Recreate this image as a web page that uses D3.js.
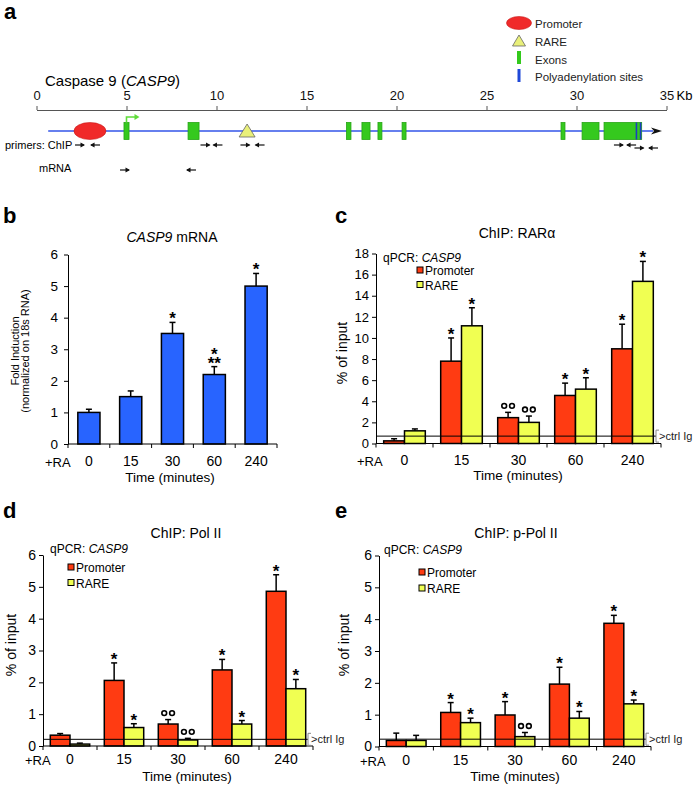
<!DOCTYPE html>
<html><head><meta charset="utf-8">
<script src="https://cdn.jsdelivr.net/npm/d3@7"></script>
<style>
body{margin:0;background:#fff}
svg{display:block;font-family:"Liberation Sans",Arial,Helvetica,sans-serif}
</style>
</head><body>
<svg id="fig" width="697" height="789"></svg>
<script>
// ---------- Panel a: gene map (positions in kb) ----------
const kbTicks = [0, 5, 10, 15, 20, 25, 30, 35];
const geneSpanKb = [0.65, 34.75];
const promoterKb = 2.97, promoterHalfKb = 0.89;
const tssKb = 5.0;
const rareKb = 11.7;
const exonStartKb = [4.86, 8.42, 17.22, 18.08, 18.97, 20.31, 29.14, 30.31, 31.53];
const exonEndKb   = [5.14, 9.03, 17.47, 18.53, 19.19, 20.53, 29.36, 31.25, 33.62];
const polyAKb = [33.33, 33.56];
const chipFwdKb = [2.39, 9.36, 11.58, 32.33, 33.47];
const chipRevKb = [3.28, 10.08, 12.42, 33.06, 34.28];
const chipRow   = [0, 0, 0, 0, 1];
const mrnaFwdKb = [4.89];
const mrnaRevKb = [8.61];

// ---------- Shared categories ----------
const times = ["0", "15", "30", "60", "240"];
const seriesNames = ["Promoter", "RARE"];

// ---------- Panel b: CASP9 mRNA ----------
const mrnaFold = [1.0, 1.5, 3.5, 2.2, 5.0];
const mrnaSD   = [0.1, 0.18, 0.35, 0.25, 0.4];
const mrnaSig  = [[], [], ["*"], ["*", "**"], ["*"]];

// ---------- Panel c: ChIP RARalpha ----------
const rarPromoter    = [0.25, 7.8, 2.45, 4.55, 8.97];
const rarPromoterSD  = [0.2, 2.2, 0.5, 1.17, 2.33];
const rarRare        = [1.2, 11.15, 2.0, 5.15, 15.36];
const rarRareSD      = [0.18, 1.71, 0.6, 1.08, 1.89];
const rarPromoterSig = ["", "*", "oo", "*", "*"];
const rarRareSig     = ["", "*", "oo", "*", "*"];
const rarCtrlIg = 0.7;

// ---------- Panel d: ChIP Pol II ----------
const polPromoter    = [0.34, 2.06, 0.69, 2.39, 4.86];
const polPromoterSD  = [0.05, 0.55, 0.14, 0.33, 0.52];
const polRare        = [0.06, 0.58, 0.19, 0.69, 1.8];
const polRareSD      = [0.03, 0.12, 0.05, 0.11, 0.29];
const polPromoterSig = ["", "*", "oo", "*", "*"];
const polRareSig     = ["", "*", "oo", "*", "*"];
const polCtrlIg = 0.21;

// ---------- Panel e: ChIP p-Pol II ----------
const ppolPromoter    = [0.19, 1.07, 0.99, 1.96, 3.87];
const ppolPromoterSD  = [0.23, 0.31, 0.42, 0.53, 0.25];
const ppolRare        = [0.19, 0.75, 0.31, 0.89, 1.34];
const ppolRareSD      = [0.16, 0.14, 0.13, 0.21, 0.12];
const ppolPromoterSig = ["", "*", "*", "*", "*"];
const ppolRareSig     = ["", "*", "oo", "*", "*"];
const ppolCtrlIg = 0.23;

const RED = "#ff3b12", YELLOW = "#f0ff52", BLUE = "#2864ff";

const svg = d3.select("#fig");

// Panel letters
[["a", 4, 19], ["b", 3, 223], ["c", 335, 223], ["d", 3, 518], ["e", 335, 518]].forEach(([t, x, y]) =>
  svg.append("text").attr("x", x).attr("y", y).attr("font-size", 22).attr("font-weight", "bold").text(t));

// ================= Panel a =================
(function () {
  const g = svg.append("g");
  const xKb = d3.scaleLinear().domain([0, 35]).range([36.5, 666.5]);
  const lineY = 131;

  const t = g.append("text").attr("x", 45).attr("y", 86).attr("font-size", 15);
  t.append("tspan").text("Caspase 9 (");
  t.append("tspan").attr("font-style", "italic").text("CASP9");
  t.append("tspan").text(")");

  const ax = g.append("g").attr("transform", "translate(0,110)")
    .call(d3.axisTop(xKb).tickValues(kbTicks).tickSize(4).tickSizeOuter(0).tickPadding(6));
  ax.attr("font-size", null).attr("font-family", null);
  ax.selectAll("path,line").attr("stroke", "#555");
  ax.selectAll("text").attr("font-size", 13).attr("fill", "#111");
  g.append("text").attr("x", xKb(35) + 10).attr("y", 100).attr("font-size", 13).text("Kb");

  // legend
  const lg = g.append("g").attr("font-size", 11.5).attr("fill", "#222");
  lg.append("ellipse").attr("cx", 519).attr("cy", 23).attr("rx", 12.5).attr("ry", 6.5).attr("fill", "#f02a2a").attr("stroke", "#c81818").attr("stroke-width", 0.6);
  lg.append("text").attr("x", 535).attr("y", 28).text("Promoter");
  lg.append("path").attr("d", "M519,35 L525.5,46 L512.5,46 Z").attr("fill", "#e9f07a").attr("stroke", "#666").attr("stroke-width", 0.8);
  lg.append("text").attr("x", 535).attr("y", 46).text("RARE");
  lg.append("rect").attr("x", 517).attr("y", 51).attr("width", 4).attr("height", 13).attr("fill", "#33c91c");
  lg.append("text").attr("x", 535).attr("y", 63.5).text("Exons");
  lg.append("rect").attr("x", 517.5).attr("y", 69).attr("width", 3).attr("height", 13).attr("fill", "#1f48d8");
  lg.append("text").attr("x", 535).attr("y", 81).text("Polyadenylation sites");

  // gene line + arrow
  g.append("line").attr("x1", xKb(geneSpanKb[0])).attr("x2", xKb(geneSpanKb[1]) - 9)
    .attr("y1", lineY).attr("y2", lineY).attr("stroke", "#3355e8").attr("stroke-width", 1.6);
  const tip = xKb(geneSpanKb[1]);
  g.append("path").attr("d", `M${tip},${lineY} L${tip - 11},${lineY - 3.5} L${tip - 8},${lineY} L${tip - 11},${lineY + 3.5} Z`).attr("fill", "#111");

  // exons
  g.selectAll("rect.exon").data(exonStartKb).join("rect").attr("class", "exon")
    .attr("x", d => xKb(d)).attr("width", (d, i) => xKb(exonEndKb[i]) - xKb(d))
    .attr("y", lineY - 8.5).attr("height", 17)
    .attr("fill", "#35c91e").attr("stroke", "#27a515").attr("stroke-width", 0.8);
  g.selectAll("rect.polya").data(polyAKb).join("rect").attr("class", "polya")
    .attr("x", d => xKb(d) - 0.8).attr("width", 1.6).attr("y", lineY - 8.5).attr("height", 17).attr("fill", "#1b3fbf");

  // promoter
  g.append("ellipse").attr("cx", xKb(promoterKb)).attr("cy", lineY)
    .attr("rx", xKb(promoterKb + promoterHalfKb) - xKb(promoterKb)).attr("ry", 8.5)
    .attr("fill", "#f02a2a").attr("stroke", "#c81818").attr("stroke-width", 0.6);

  // TSS arrow
  const tx = xKb(tssKb);
  g.append("path").attr("d", `M${tx},${lineY - 8.5} V${lineY - 14} H${tx + 9}`).attr("fill", "none").attr("stroke", "#5fdc3a").attr("stroke-width", 1.6);
  g.append("path").attr("d", `M${tx + 13},${lineY - 14} L${tx + 8},${lineY - 17} L${tx + 8},${lineY - 11} Z`).attr("fill", "#5fdc3a");

  // RARE
  const rx = xKb(rareKb);
  g.append("path").attr("d", `M${rx},${lineY - 7} L${rx + 8},${lineY + 6} L${rx - 8},${lineY + 6} Z`)
    .attr("fill", "#e9f07a").attr("stroke", "#666").attr("stroke-width", 0.8);

  // primers
  function arrow(xc, y, dir) {
    const h = 4.5;
    g.append("line").attr("x1", xc - h).attr("x2", xc + h).attr("y1", y).attr("y2", y).attr("stroke", "#111").attr("stroke-width", 1.2);
    const e = xc + dir * h;
    g.append("path").attr("d", `M${e + dir * 1},${y} L${e - dir * 3.5},${y - 2.5} L${e - dir * 3.5},${y + 2.5} Z`).attr("fill", "#111");
  }
  chipFwdKb.forEach((k, i) => arrow(xKb(k), 145 + chipRow[i] * 3, 1));
  chipRevKb.forEach((k, i) => arrow(xKb(k), 145 + chipRow[i] * 3, -1));
  mrnaFwdKb.forEach(k => arrow(xKb(k), 170, 1));
  mrnaRevKb.forEach(k => arrow(xKb(k), 170, -1));
  g.append("text").attr("x", 5).attr("y", 149).attr("font-size", 11).text("primers: ChIP");
  g.append("text").attr("x", 39).attr("y", 172).attr("font-size", 11).text("mRNA");
})();

// ================= Bar panels =================
function barPanel(o) {
  const g = svg.append("g");
  const x = d3.scaleBand().domain(times).range([o.x0, o.x1]).padding(0);
  const y = d3.scaleLinear().domain([0, o.ymax]).range([o.yBase, o.yTop]);
  const bw = x.bandwidth();

  // title
  const tt = g.append("text").attr("x", o.titleX).attr("y", o.titleY).attr("font-size", 14).attr("text-anchor", "middle");
  o.title.forEach(([s, it]) => tt.append("tspan").attr("font-style", it ? "italic" : null).text(s));

  // bars
  const groupW = o.series.length === 1 ? bw * 0.53 : bw * 0.73;
  const barW = groupW / o.series.length;
  o.series.forEach((s, si) => {
    times.forEach((t, i) => {
      const bx = x(t) + (bw - groupW) / 2 + si * barW;
      const cx = bx + barW / 2;
      const v = s.values[i], top = y(v), et = y(v + s.sd[i]);
      g.append("line").attr("x1", cx).attr("x2", cx).attr("y1", top).attr("y2", et).attr("stroke", "#000").attr("stroke-width", 1.5);
      g.append("line").attr("x1", cx - 3).attr("x2", cx + 3).attr("y1", et).attr("y2", et).attr("stroke", "#000").attr("stroke-width", 1.5);
      g.append("rect").attr("x", bx).attr("y", top).attr("width", barW).attr("height", o.yBase - top)
        .attr("fill", s.color).attr("stroke", "#000").attr("stroke-width", 1.5);
      let marks = s.sig[i];
      if (!Array.isArray(marks)) marks = marks ? [marks] : [];
      const stars = marks.filter(m => m !== "oo");
      if (marks.includes("oo")) {
        [-3.9, 3.9].forEach(dx => g.append("circle").attr("cx", cx + dx).attr("cy", et - 6.5).attr("r", 2.4)
          .attr("fill", "none").attr("stroke", "#000").attr("stroke-width", 1.6));
      }
      if (stars.length) {
        // one text element, stacked lines (top to bottom)
        const st = g.append("text").attr("text-anchor", "middle").attr("font-size", 17).attr("font-weight", "bold");
        const firstY = et + 2 - (stars.length - 1) * 9;
        stars.forEach((m, k) => st.append("tspan").attr("x", cx).attr("y", firstY + k * 9).text(m));
      }
    });
  });

  // y axis
  const ya = g.append("g").attr("transform", `translate(${o.x0},0)`)
    .call(d3.axisLeft(y).tickValues(o.yTicks).tickFormat(d3.format("d")).tickSize(4).tickSizeOuter(0).tickPadding(o.tickPad));
  ya.attr("font-size", null).attr("font-family", null);
  ya.selectAll("path,line").attr("stroke", "#000");
  ya.selectAll("text").attr("font-size", o.tickFont).attr("fill", "#000");

  // x axis: boundary ticks
  g.append("line").attr("x1", o.x0).attr("x2", o.x1).attr("y1", o.yBase).attr("y2", o.yBase).attr("stroke", "#000");
  const bounds = times.map(t => x(t)).concat([o.x1]);
  g.selectAll("line.xt").data(bounds).join("line").attr("class", "xt")
    .attr("x1", d => d).attr("x2", d => d).attr("y1", o.yBase).attr("y2", o.yBase + 4).attr("stroke", "#000");
  g.selectAll("text.xl").data(times).join("text").attr("class", "xl")
    .attr("x", d => x(d) + bw / 2).attr("y", o.xLabY).attr("text-anchor", "middle").attr("font-size", 14).text(d => d);
  g.append("text").attr("x", o.raX).attr("y", o.xLabY + 1).attr("font-size", 13).text("+RA");
  g.append("text").attr("x", o.timeX).attr("y", o.timeY).attr("text-anchor", "middle").attr("font-size", 13.5).text("Time (minutes)");

  // y label
  o.ylab.forEach(([s, lx, fs]) =>
    g.append("text").attr("transform", `translate(${lx},${o.ylabY}) rotate(-90)`).attr("text-anchor", "middle")
      .attr("font-size", fs).text(s));

  // ctrl Ig
  if (o.ctrl != null) {
    const cy = y(o.ctrl), ex = o.x1 - 5;
    g.append("line").attr("x1", o.x0).attr("x2", ex).attr("y1", cy).attr("y2", cy).attr("stroke", "#000").attr("stroke-width", 1);
    g.append("path").attr("d", `M${ex + 3},${cy - 6} H${ex} V${cy + 6} H${ex + 3}`).attr("fill", "none").attr("stroke", "#888").attr("stroke-width", 1);
    g.append("text").attr("x", ex + 3).attr("y", cy + 4).attr("font-size", 11).attr("fill", "#222").text(">ctrl Ig");
  }

  // legend
  if (o.legend) {
    const L = o.legend;
    const q = g.append("text").attr("x", L.qx).attr("y", L.qy).attr("font-size", 12);
    q.append("tspan").text("qPCR: ");
    q.append("tspan").attr("font-style", "italic").text("CASP9");
    o.series.forEach((s, si) => {
      const by = L.y0 + si * L.dy;
      g.append("rect").attr("x", L.sx).attr("y", by - 8).attr("width", 6).attr("height", 6)
        .attr("fill", s.color).attr("stroke", "#000").attr("stroke-width", 1);
      g.append("text").attr("x", L.sx + 8).attr("y", by).attr("font-size", 12).text(seriesNames[si]);
    });
  }
}

// b
barPanel({
  x0: 68, x1: 277, yBase: 444, yTop: 254.5, ymax: 6, yTicks: [0, 1, 2, 3, 4, 5, 6], tickPad: 6, tickFont: 13.5,
  title: [["CASP9", true], [" mRNA", false]], titleX: 172, titleY: 241.5,
  series: [{ values: mrnaFold, sd: mrnaSD, sig: mrnaSig, color: BLUE }],
  xLabY: 466, raX: 45, timeX: 170, timeY: 482,
  ylab: [["Fold Induction", 19, 11], ["(normalized on 18s RNA)", 29, 11]], ylabY: 351
});

// c
barPanel({
  x0: 376, x1: 661, yBase: 443.5, yTop: 253.5, ymax: 18, yTicks: d3.range(0, 19, 2), tickPad: 3, tickFont: 13,
  title: [["ChIP: RAR\u03b1", false]], titleX: 517, titleY: 238,
  series: [
    { values: rarPromoter, sd: rarPromoterSD, sig: rarPromoterSig, color: RED },
    { values: rarRare, sd: rarRareSD, sig: rarRareSig, color: YELLOW }],
  xLabY: 465, raX: 357, timeX: 518, timeY: 480,
  ylab: [["% of input", 347, 14]], ylabY: 353,
  ctrl: rarCtrlIg,
  legend: { qx: 383, qy: 262, sx: 417, y0: 275, dy: 14.5 }
});

// d
barPanel({
  x0: 43, x1: 313, yBase: 746, yTop: 555, ymax: 6, yTicks: [0, 1, 2, 3, 4, 5, 6], tickPad: 3, tickFont: 14,
  title: [["ChIP: Pol II", false]], titleX: 186, titleY: 538,
  series: [
    { values: polPromoter, sd: polPromoterSD, sig: polPromoterSig, color: RED },
    { values: polRare, sd: polRareSD, sig: polRareSig, color: YELLOW }],
  xLabY: 764, raX: 25, timeX: 187, timeY: 781,
  ylab: [["% of input", 16, 14]], ylabY: 645,
  ctrl: polCtrlIg,
  legend: { qx: 50, qy: 553, sx: 68, y0: 572, dy: 15.5 }
});

// e
barPanel({
  x0: 379, x1: 651, yBase: 746.5, yTop: 555.5, ymax: 6, yTicks: [0, 1, 2, 3, 4, 5, 6], tickPad: 3, tickFont: 14,
  title: [["ChIP: p-Pol II", false]], titleX: 516, titleY: 538,
  series: [
    { values: ppolPromoter, sd: ppolPromoterSD, sig: ppolPromoterSig, color: RED },
    { values: ppolRare, sd: ppolRareSD, sig: ppolRareSig, color: YELLOW }],
  xLabY: 765, raX: 360, timeX: 515, timeY: 781,
  ylab: [["% of input", 349, 14]], ylabY: 645,
  ctrl: ppolCtrlIg,
  legend: { qx: 384, qy: 554, sx: 419, y0: 577, dy: 16 }
});
</script>
</body></html>
